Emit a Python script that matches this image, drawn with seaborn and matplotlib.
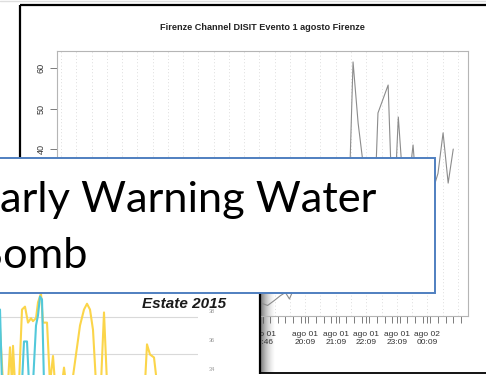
import matplotlib
matplotlib.use("Agg")
import matplotlib.pyplot as plt
from matplotlib.patches import Rectangle
import numpy as np
import pandas as pd
import seaborn as sns

W, H = 486, 375

sns.set_theme(style="white")
plt.rcParams['font.family'] = ['Liberation Sans Narrow', 'Liberation Sans', 'DejaVu Sans']

# --- Firenze Channel DISIT, evento 1 agosto ---------------------------------
chart_title = "Firenze Channel DISIT Evento 1 agosto Firenze"
ore = [
    "2015-08-01 12:30", "2015-08-01 12:45", "2015-08-01 13:00", "2015-08-01 13:15",
    "2015-08-01 13:30", "2015-08-01 13:45", "2015-08-01 14:00", "2015-08-01 14:15",
    "2015-08-01 14:30", "2015-08-01 14:45", "2015-08-01 15:00", "2015-08-01 15:15",
    "2015-08-01 15:30", "2015-08-01 15:45", "2015-08-01 16:00", "2015-08-01 16:15",
    "2015-08-01 16:30", "2015-08-01 16:45", "2015-08-01 17:00", "2015-08-01 17:15",
    "2015-08-01 17:30", "2015-08-01 17:45", "2015-08-01 18:00", "2015-08-01 18:15",
    "2015-08-01 18:30", "2015-08-01 18:42", "2015-08-01 18:55", "2015-08-01 19:08",
    "2015-08-01 19:20", "2015-08-01 19:30", "2015-08-01 19:38", "2015-08-01 19:44",
    "2015-08-01 19:55", "2015-08-01 20:05", "2015-08-01 20:20", "2015-08-01 20:35",
    "2015-08-01 20:50", "2015-08-01 21:05", "2015-08-01 21:20", "2015-08-01 21:30",
    "2015-08-01 21:37", "2015-08-01 21:43", "2015-08-01 21:53", "2015-08-01 22:09",
    "2015-08-01 22:16", "2015-08-01 22:26", "2015-08-01 22:32", "2015-08-01 22:52",
    "2015-08-01 23:00", "2015-08-01 23:06", "2015-08-01 23:12", "2015-08-01 23:22",
    "2015-08-01 23:31", "2015-08-01 23:41", "2015-08-01 23:49", "2015-08-02 00:05",
    "2015-08-02 00:18", "2015-08-02 00:30", "2015-08-02 00:40", "2015-08-02 00:50",
    "2015-08-02 01:00",
]
valori = [
    2.0, 1.5, 2.5, 1.8, 3.0, 2.2, 1.6, 2.8, 3.5, 2.4, 1.9, 2.6,
    3.1, 2.0, 1.7, 2.3, 2.9, 3.4, 2.5, 1.8, 2.7, 3.3, 2.1, 2.9,
    3.6, 2.0, 1.4, 2.6, 3.8, 4.6, 3.0, 4.8, 6.5, 7.0, 12.0, 9.0,
    18.0, 24.0, 20.0, 30.0, 36.0, 61.5, 46.4, 30.0, 25.0, 28.0, 48.9, 55.8,
    26.0, 31.0, 47.9, 30.0, 30.0, 41.0, 28.0, 33.0, 29.0, 34.0, 44.0, 31.6,
    40.0,
]
tick_ore = ["2015-08-01 18:46", "2015-08-01 20:09", "2015-08-01 21:09",
            "2015-08-01 22:09", "2015-08-01 23:09", "2015-08-02 00:09"]
tick_etichette = ["ago 01\n18:46", "ago 01\n20:09", "ago 01\n21:09",
                  "ago 01\n22:09", "ago 01\n23:09", "ago 02\n00:09"]
y_ticks = [0, 10, 20, 30, 40, 50, 60]

# --- Estate 2015 -------------------------------------------------------------
estate_title = "Estate 2015"
giallo_x = [0, 3, 8, 10, 12, 13, 15, 19, 22, 25, 28, 31, 33, 36, 38, 41, 43, 47,
            50, 53, 55, 62, 64, 66, 72, 78, 80, 84, 87, 90, 93, 96, 101, 104, 107,
            145, 147, 150, 154, 157, 198]
giallo_y = [36.8, 33.0, 33.0, 35.5, 33.0, 35.6, 33.0, 33.0, 38.1, 38.3, 37.2, 37.5,
            37.3, 37.5, 38.6, 39.2, 37.2, 37.2, 33.0, 34.9, 33.0, 33.0, 34.1, 33.0,
            33.0, 36.0, 37.0, 38.1, 38.5, 38.1, 36.7, 33.0, 33.0, 37.9, 33.0,
            33.0, 35.7, 35.0, 34.8, 33.0, 33.0]
ciano_x = [0, 2, 22, 24, 27, 29, 33, 36, 38, 40, 42, 44, 198]
ciano_y = [38.1, 33.0, 33.0, 35.9, 35.9, 33.0, 33.0, 37.0, 37.7, 39.0, 38.8, 33.0, 33.0]
estate_ticks = [34, 36, 38]
estate_grid = [35.03, 37.59]

banner_righe = ["Early Warning Water", "Bomb"]


def box(x0, y0, x1, y1):
    """Pixel rectangle (top-left origin) -> figure fraction [l, b, w, h]."""
    return [x0 / W, 1 - y1 / H, (x1 - x0) / W, (y1 - y0) / H]


fig = plt.figure(figsize=(W / 100, H / 100), dpi=100)
fig.patch.set_facecolor("white")

# underlay: soft shadow next to the inset edge, thin top rule
under = fig.add_axes([0, 0, 1, 1], zorder=0)
under.set_xlim(0, W); under.set_ylim(H, 0); under.axis("off")
grad = np.linspace(0.6, 0.0, 40)[None, :]
under.imshow(grad, cmap="Greys", vmin=0, vmax=1, extent=[260, 275, 373, 293],
             aspect="auto", interpolation="bilinear")
under.plot([0, W], [1, 1], color="#dedede", lw=1.0)

# main time-series chart
ax = fig.add_axes(box(57, 51, 468, 316), zorder=1)
ax.patch.set_alpha(0)
df = pd.DataFrame({"ora": pd.to_datetime(ore), "valore": valori})
for t in pd.date_range("2015-08-01 12:09", "2015-08-02 01:09", freq="30min"):
    ax.axvline(t, color="#d2d2d2", lw=0.6, ls=(0, (1, 3)), zorder=0)
sns.lineplot(data=df, x="ora", y="valore", ax=ax, color="#8c8c8c", lw=0.8, zorder=2)
ax.set_xlim(pd.Timestamp("2015-08-01 12:01"), pd.Timestamp("2015-08-02 01:29"))
ax.set_ylim(-1.2, 64.2)
ax.set_xlabel(""); ax.set_ylabel("")
ax.set_xticks(pd.to_datetime(tick_ore))
ax.set_xticklabels(tick_etichette)
ax.set_xticks(pd.date_range("2015-08-01 12:15", "2015-08-02 01:15", freq="15min"), minor=True)
ax.set_yticks(y_ticks)
ax.tick_params(axis="x", which="both", bottom=True, length=5, width=0.6, color="#666",
               labelsize=6, labelcolor="#333", pad=6)
ax.tick_params(axis="y", left=True, length=5, width=0.6, color="#666",
               labelsize=6.5, labelcolor="#333", pad=3)
for lab in ax.get_yticklabels():
    lab.set_rotation(90)
    lab.set_va("center")
for sp in ax.spines.values():
    sp.set_color("#b5b5b5"); sp.set_linewidth(0.8)
fig.text(262 / W, 1 - 28 / H, chart_title, ha="center", va="center",
         fontsize=6.6, fontweight="bold", color="#222")

# overlay: outer frame and inset panel
ov = fig.add_axes([0, 0, 1, 1], zorder=5)
ov.set_xlim(0, W); ov.set_ylim(H, 0); ov.axis("off"); ov.patch.set_alpha(0)
ov.plot([19.5, W], [4.5, 4.5], color="black", lw=1.6, solid_capstyle="butt")
ov.plot([19.5, 19.5], [4.5, 293], color="black", lw=1.6, solid_capstyle="butt")
ov.add_patch(Rectangle((0, 293), 259, 82, facecolor="white", edgecolor="none"))
ov.plot([259.5, 259.5], [293, 373.5], color="black", lw=1.6, solid_capstyle="butt")
ov.plot([259.5, W], [373, 373], color="black", lw=1.3, solid_capstyle="butt")

# Estate 2015 inset
ae = fig.add_axes(box(0, 293, 198, 375), zorder=6)
ae.patch.set_alpha(0)
for g in estate_grid:
    ae.axhline(g, color="#d9d9d9", lw=0.8, zorder=0)
sns.lineplot(x=giallo_x, y=giallo_y, ax=ae, color="#FBD54A", lw=1.5, sort=False)
sns.lineplot(x=ciano_x, y=ciano_y, ax=ae, color="#52C8DA", lw=1.5, sort=False)
ae.set_xlim(0, 198)
ae.set_ylim(33.59, 39.24)
ae.set_xticks([])
ae.yaxis.tick_right()
ae.set_yticks(estate_ticks)
ae.tick_params(axis="y", right=False, left=False, labelsize=4, labelcolor="#9a9a9a", pad=2)
for sp in ae.spines.values():
    sp.set_visible(False)

# callout text box and inset caption on top
tb = fig.add_axes([0, 0, 1, 1], zorder=10)
tb.set_xlim(0, W); tb.set_ylim(H, 0); tb.axis("off"); tb.patch.set_alpha(0)
tb.text(142, 308, estate_title, ha="left", va="baseline",
        fontsize=11, fontweight="bold", fontstyle="italic", color="#1a1a1a",
        family=["Liberation Sans", "DejaVu Sans"])
tb.add_patch(Rectangle((-5, 157.5), 440, 135.5, facecolor="white",
                       edgecolor="#4F7FC0", lw=1.4))

# size the banner so that the first line runs to the right end of "Water"
fam = ["Lato", "DejaVu Sans"]
fig.canvas.draw()
r = fig.canvas.get_renderer()
probe_full = tb.text(0, 0, banner_righe[0], fontsize=29, family=fam)
probe_E = tb.text(0, 0, banner_righe[0][0], fontsize=29, family=fam)
w_full = probe_full.get_window_extent(r).width
w_E = probe_E.get_window_extent(r).width
probe_full.remove(); probe_E.remove()
fs = 29 * 376.0 / (w_full - w_E)
x_left = -w_E * fs / 29

tb.text(x_left, 212, banner_righe[0], fontsize=fs, va="baseline", ha="left",
        family=fam, color="black")
tb.text(x_left, 268, banner_righe[1], fontsize=fs, va="baseline", ha="left",
        family=fam, color="black")

fig.savefig("out.png", dpi=100, facecolor="white")
